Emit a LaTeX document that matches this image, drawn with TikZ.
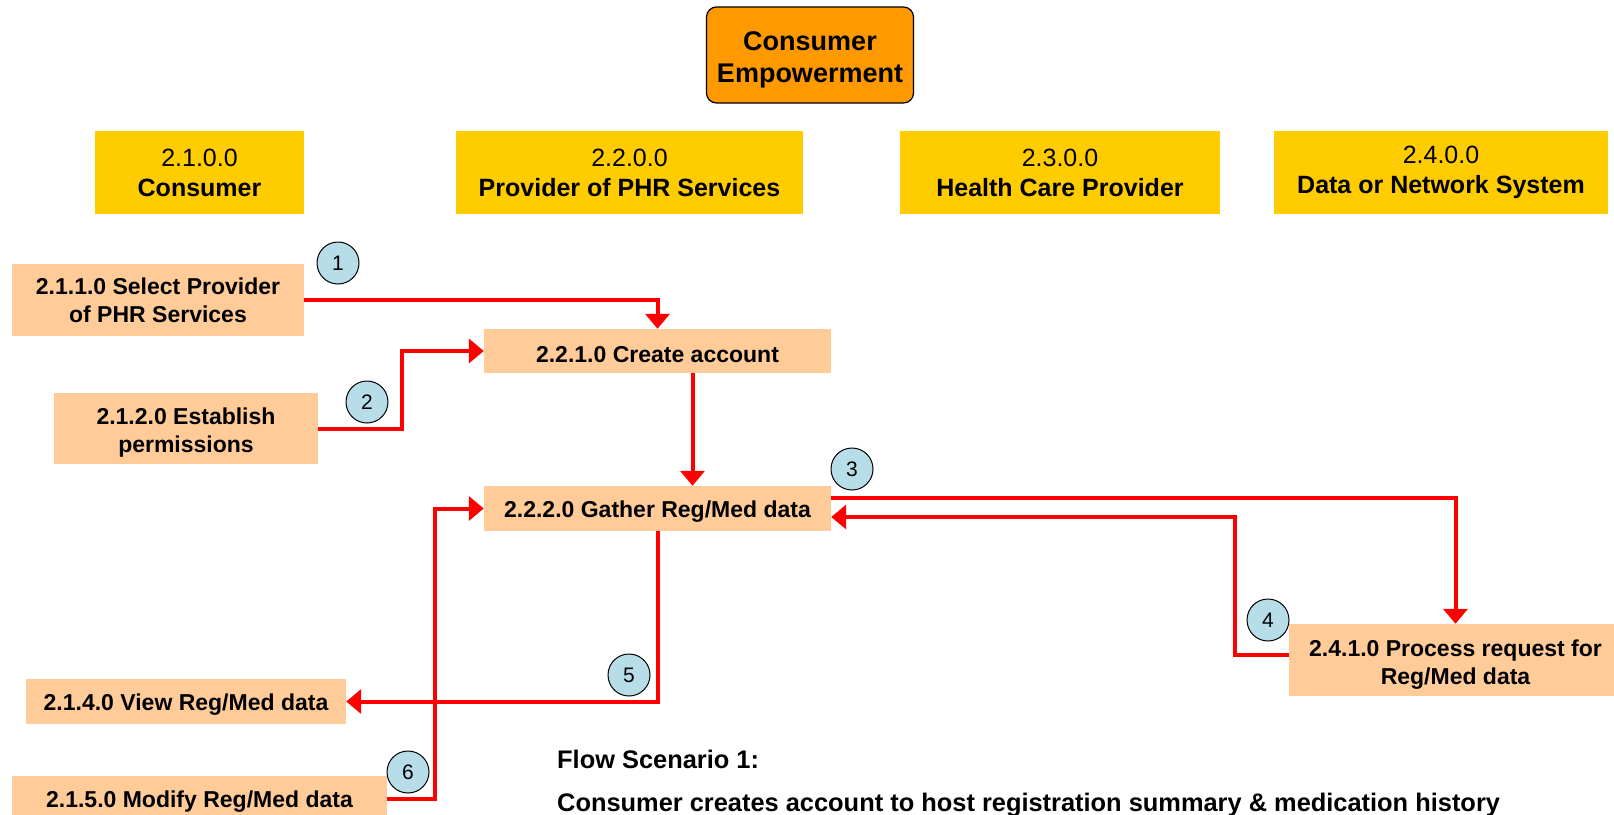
\documentclass[tikz,border=0pt]{standalone}
\usepackage{fontspec}
\setmainfont{Liberation Sans}
\usetikzlibrary{arrows.meta}
\usetikzlibrary{positioning}
\definecolor{titleorange}{HTML}{FF9900}
\definecolor{laneyellow}{HTML}{FFCC00}
\definecolor{procpeach}{HTML}{FFCC99}
\definecolor{numblue}{HTML}{B7DEE8}
\newcommand{\lift}[1]{\rule{0pt}{#1}}

\begin{document}
\begin{tikzpicture}
    [
    x=1pt,y=-1pt,
    title/.style = {draw=black,line width=1.2pt,fill=titleorange,rounded corners=10pt,inner sep=0pt,minimum width=207pt,minimum height=96pt,align=center,font=\bfseries\fontsize{27}{32}\selectfont},
    lane/.style = {fill=laneyellow,inner sep=0pt,minimum height=83pt,align=center,font=\fontsize{25}{30}\selectfont},
    proc/.style = {fill=procpeach,inner sep=0pt,align=center,font=\bfseries\fontsize{23}{28}\selectfont,execute at begin node={\lift{23.5pt}}},
    num/.style = {draw=black,line width=1pt,fill=numblue,circle,minimum size=42pt,inner sep=0pt,font=\fontsize{21}{21}\selectfont},
    flow/.style = {draw=red,line width=4pt,-{Triangle[length=15pt,width=24pt]}},
    note/.style = {anchor=west,inner sep=0pt,font=\bfseries\fontsize{25.4}{30}\selectfont}
    ]
\useasboundingbox (0,0) rectangle (1614,814);
\clip (0,0) rectangle (1614,814);

\node[title] (top) at (810,55) {\lift{29.5pt}Consumer\\Empowerment};

\node[lane,minimum width=209pt] (consumer) at (199.5,172.5) {2.1.0.0\\\textbf{Consumer}};
\node[lane,minimum width=347pt] (provider) at (629.5,172.5) {2.2.0.0\\\textbf{Provider of PHR Services}};
\node[lane,minimum width=320pt] (hcp) at (1060,172.5) {2.3.0.0\\\textbf{Health Care Provider}};
\node[lane,minimum width=334pt] (network) at (1441,172.5) {2.4.0.0\\\textbf{Data or Network System}};

\node[proc,minimum width=292pt,minimum height=72pt] (sel) at (158,300) {2.1.1.0 Select Provider\\of PHR Services};
\node[proc,minimum width=264pt,minimum height=71pt] (perm) at (186,428.5) {\lift{25pt}2.1.2.0 Establish\\permissions};
\node[proc,minimum width=347pt,minimum height=44pt] (create) at (657.5,351) {2.2.1.0 Create account};
\node[proc,minimum width=347pt,minimum height=45pt] (gather) at (657.5,508.5) {2.2.2.0 Gather Reg/Med data};
\node[proc,minimum width=333pt,minimum height=72pt] (proc) at (1455.5,660) {\lift{25pt}2.4.1.0 Process request for\\Reg/Med data};
\node[proc,minimum width=320pt,minimum height=45pt] (view) at (186,701.5) {2.1.4.0 View Reg/Med data};
\node[proc,minimum width=375pt,minimum height=45pt] (modify) at (199.5,798.5) {2.1.5.0 Modify Reg/Med data};

\draw[flow] (sel.east) -| (create.north);
\draw[flow] (perm.east) -- ++(84,0) |- (create.west);
\draw[flow] ([xshift=35pt]create.south) -- ([xshift=35pt]gather.north);
\draw[flow] ([yshift=11pt]gather.east) -| (proc.north);
\draw[flow] ([yshift=5pt]proc.west) -- ++(-54,0) |- ([yshift=-8.5pt]gather.east);
\draw[flow] (gather.south) |- (view.east);
\draw[flow] (modify.east) -- ++(48,0) |- (gather.west);

\node[num] (n1) at (338,263) {1};
\node[num] (n2) at (367,402) {2};
\node[num] (n3) at (852,469) {3};
\node[num] (n4) at (1268,620) {4};
\node[num] (n5) at (629,675) {5};
\node[num] (n6) at (408,772) {6};

\node[note] (scen) at (557,759) {Flow Scenario 1:};
\node[note] (scendesc) at (557,805) {Consumer creates account to host registration summary \& medication history};
\end{tikzpicture}
\end{document}
